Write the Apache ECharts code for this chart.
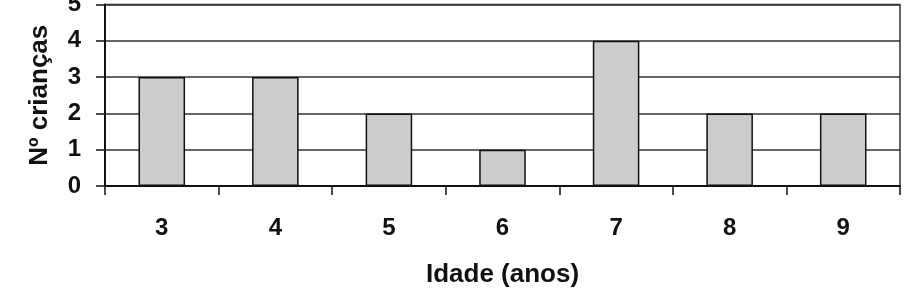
<!DOCTYPE html>
<html><head><meta charset="utf-8">
<script src="https://cdn.jsdelivr.net/npm/echarts@6/dist/echarts.min.js"></script>
<style>html,body{margin:0;padding:0;background:#fff}#c{width:915px;height:291px}</style>
</head><body><div id="c"></div>
<script>
var categories = ['3','4','5','6','7','8','9'];
var values = [3,3,2,1,4,2,2];
var yMin = 0, yMax = 5, yInterval = 1;
var xName = 'Idade (anos)';
var yName = 'Nº crianças';

var chart = echarts.init(document.getElementById('c'), null, {renderer:'canvas'});
var font = 'Liberation Sans, Arial, sans-serif';
chart.setOption({
  animation: false,
  grid: {left: 105, right: 15, top: 4.5, bottom: 105, outerBoundsMode: 'none', containLabel: false, show: true, borderColor: '#333', borderWidth: 1.5, backgroundColor: 'transparent'},
  xAxis: {
    type: 'category', data: categories, boundaryGap: true,
    name: xName, nameLocation: 'middle', nameGap: 76,
    nameTextStyle: {fontFamily: font, fontWeight: 'bold', fontSize: 26, color: '#111'},
    axisLine: {lineStyle: {color: '#111', width: 2}},
    axisTick: {show: true, length: 9, alignWithLabel: false, lineStyle: {color: '#111', width: 1.5}},
    axisLabel: {fontFamily: font, fontWeight: 'bold', fontSize: 24, color: '#111', margin: 30}
  },
  yAxis: {
    type: 'value', min: yMin, max: yMax, interval: yInterval,
    name: yName, nameLocation: 'middle', nameGap: 52, nameRotate: 90,
    nameTextStyle: {fontFamily: font, fontWeight: 'bold', fontSize: 26, color: '#111'},
    axisLine: {show: true, lineStyle: {color: '#111', width: 2}},
    axisTick: {show: true, length: 9, lineStyle: {color: '#111', width: 1.5}},
    axisLabel: {fontFamily: font, fontWeight: 'bold', fontSize: 24, color: '#111', margin: 24},
    splitLine: {show: true, lineStyle: {color: '#333', width: 1.5}}
  },
  series: [{
    type: 'bar', data: values, barWidth: '41%',
    itemStyle: {color: '#cccccc', borderColor: '#111', borderWidth: 1.5}
  }]
});
</script></body></html>
